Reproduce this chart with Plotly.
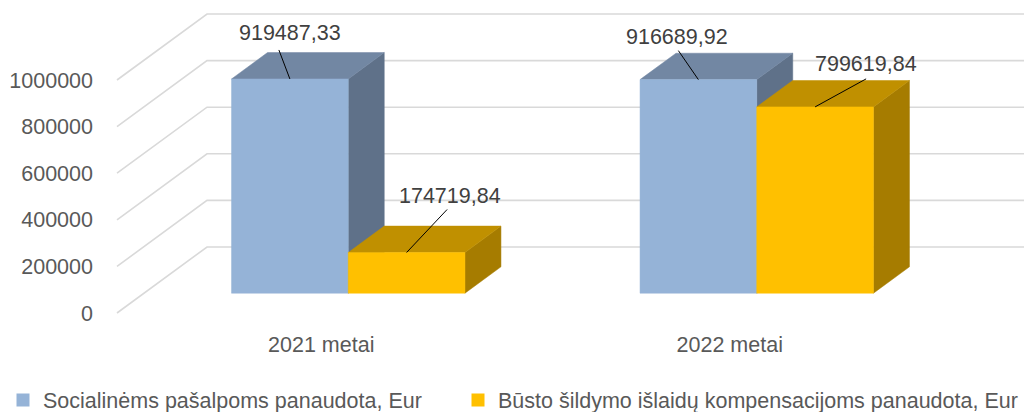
import plotly.graph_objects as go

# ---------------- data ----------------
categories = ["2021 metai", "2022 metai"]
series_names = ["Socialinėms pašalpoms panaudota, Eur",
                "Būsto šildymo išlaidų kompensacijoms panaudota, Eur"]
social = [919487.33, 916689.92]
heating = [174719.84, 799619.84]
value_labels_social = ["919487,33", "916689,92"]
value_labels_heating = ["174719,84", "799619,84"]
y_ticks = [0, 200000, 400000, 600000, 800000, 1000000]

# ---------------- styling / geometry ----------------
front_colors = ["#95B3D7", "#FFC000"]
top_colors = ["#7287A3", "#C09000"]
side_colors = ["#5F7189", "#A67C00"]
grid_color = "#D9D9D9"
FS = 21.5

W, H = 1035, 412
PX_X0 = 117.0          # pixel x of category 0 on the front edge
PX_PER_CAT = 408.5     # pixels per category
PX_Y0 = 313.0          # pixel y of value 0 on the front edge
PX_PER_VAL = 233.0 / 1e6
DEPTH_PX = (90.0, -66.0)   # full depth offset in pixels

def px_dx(p):
    return p / PX_PER_CAT

def px_dy(p):
    return -p / PX_PER_VAL

DX = px_dx(DEPTH_PX[0])
DY = px_dy(DEPTH_PX[1])
D_FRONT, D_BACK = 0.3, 0.7
GAP = 1.5
n_series = 2
bar_w = 1.0 / (n_series + GAP)

# plot area in pixels
L, R, T, B = 112, 1030, 6, 318
x_range = [px_dx(L - PX_X0), px_dx(R - PX_X0)]
y_range = [px_dy(B - PX_Y0), px_dy(T - PX_Y0)]

fig = go.Figure()

# gridlines (floor diagonal + back wall)
n_cat = len(categories)
for v in y_ticks:
    fig.add_trace(go.Scatter(
        x=[0, DX, n_cat + DX], y=[v, v + DY, v + DY],
        mode="lines", line=dict(color=grid_color, width=1.6),
        hoverinfo="skip", showlegend=False))

def poly(xs, ys, color):
    fig.add_trace(go.Scatter(
        x=xs + [xs[0]], y=ys + [ys[0]], mode="lines", fill="toself",
        fillcolor=color, line=dict(color=color, width=0.5),
        hoverinfo="skip", showlegend=False))

series_vals = [social, heating]
series_labels = [value_labels_social, value_labels_heating]
# label offsets in pixels: (text dx, text dy, line start dx, line start dy)
label_offsets = [
    [(0, -46, -11, -29), (-21, -43, -20, -29)],
    [(43.5, -56, 40.5, -43), (51, -43, 51, -28)],
]

label_items = []
for ci in range(n_cat):
    for si in range(n_series):
        v = series_vals[si][ci]
        x0 = ci + (GAP / 2) * bar_w + si * bar_w + D_FRONT * DX
        x1 = x0 + bar_w
        yb = D_FRONT * DY
        yt = yb + v
        ddx = (D_BACK - D_FRONT) * DX
        ddy = (D_BACK - D_FRONT) * DY
        # side face
        poly([x1, x1 + ddx, x1 + ddx, x1], [yb, yb + ddy, yt + ddy, yt], side_colors[si])
        # top face
        poly([x0, x1, x1 + ddx, x0 + ddx], [yt, yt, yt + ddy, yt + ddy], top_colors[si])
        # front face
        poly([x0, x1, x1, x0], [yb, yb, yt, yt], front_colors[si])
        label_items.append((ci, si, (x0 + x1) / 2, yt))

# data labels with leader lines
for ci, si, xc, yt in label_items:
    tdx, tdy, ldx, ldy = label_offsets[si][ci]
    fig.add_trace(go.Scatter(
        x=[xc, xc + px_dx(ldx)], y=[yt, yt + px_dy(ldy)], mode="lines",
        line=dict(color="#000000", width=1), hoverinfo="skip", showlegend=False))
    fig.add_annotation(x=xc + px_dx(tdx), y=yt + px_dy(tdy),
                       text=series_labels[si][ci], showarrow=False,
                       font=dict(size=FS, color="#404040"),
                       xanchor="center", yanchor="middle")

# legend entries (one legend per series, placed side by side)
legend_ids = ["legend", "legend2"]
legend_x_px = [3, 458]
for si in range(n_series):
    fig.add_trace(go.Scatter(
        x=[None], y=[None], mode="markers", name=series_names[si],
        legend=legend_ids[si],
        marker=dict(symbol="square", size=13, color=front_colors[si])))

legend_style = dict(orientation="h", xanchor="left", y=1 - 400 / H, yanchor="middle",
                    xref="container", yref="container",
                    font=dict(size=FS, color="#595959"),
                    itemwidth=30, bgcolor="rgba(0,0,0,0)")

fig.update_layout(
    width=W, height=H,
    margin=dict(l=L, r=W - R, t=T, b=H - B, autoexpand=False),
    paper_bgcolor="white", plot_bgcolor="white",
    font=dict(family="Liberation Sans, Arial, sans-serif", color="#595959", size=FS),
    xaxis=dict(range=x_range, showgrid=False, zeroline=False, showline=False,
               automargin=False,
               tickmode="array", tickvals=[i + 0.5 for i in range(n_cat)],
               ticktext=categories, ticks="", ticklabelstandoff=11,
               tickfont=dict(size=FS, color="#595959"),
               fixedrange=True),
    yaxis=dict(range=y_range, showgrid=False, zeroline=False, showline=False,
               automargin=False,
               tickmode="array", tickvals=y_ticks, ticktext=[str(v) for v in y_ticks],
               ticks="", ticklabelstandoff=18, tickfont=dict(size=FS, color="#595959"),
               fixedrange=True),
    showlegend=True,
    legend=dict(x=legend_x_px[0] / W, **legend_style),
    legend2=dict(x=legend_x_px[1] / W, **legend_style),
)

fig.write_html(
    "out.html",
    config={"displayModeBar": False},
    post_script="document.body.style.margin='0';document.body.style.padding='0';",
)
